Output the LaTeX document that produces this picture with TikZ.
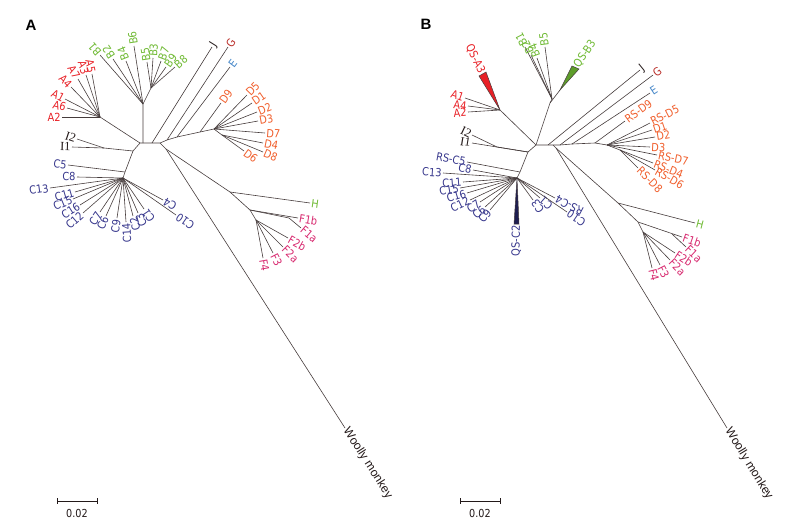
\documentclass[tikz,border=0pt]{standalone}
\usepackage{fontspec}
\setmainfont{DejaVu Sans}[FakeStretch=0.88]
\newfontfamily\serI{Liberation Serif}
\newfontfamily\arl{Liberation Sans}
\usetikzlibrary{calc}
\definecolor{cA}{RGB}{232,32,38}
\definecolor{cB}{RGB}{110,185,50}
\definecolor{cC}{RGB}{55,55,140}
\definecolor{cD}{RGB}{240,95,45}
\definecolor{cE}{RGB}{70,135,200}
\definecolor{cG}{RGB}{185,45,40}
\definecolor{cF}{RGB}{215,40,110}
\definecolor{cK}{RGB}{35,25,25}
\definecolor{cL}{RGB}{70,60,60}
\definecolor{cW}{RGB}{30,30,80}
\tikzset{
  br/.style={draw=cL,line width=0.6pt},
  lab/.style={font=\fontsize{11.2}{13}\selectfont,inner sep=1.2pt},
  labI/.style={font=\serI\fontsize{12.5}{14}\selectfont,inner sep=1.2pt,text=cK},
  wedge/.style={draw=cL,line width=0.5pt},
}
\newcommand\lfn[5]{%
  \coordinate (#1t) at #3;
  \draw[br] (#2) -- (#1t);
  \path let \p1=($(#1t)-(#2)$), \n1={atan2(\y1,\x1)} in
    node[lab,#5,rotate=\n1,anchor=west] (#1) at (#1t) {#4};
}
\newcommand\lff[5]{%
  \coordinate (#1t) at #3;
  \draw[br] (#2) -- (#1t);
  \path let \p1=($(#1t)-(#2)$), \n1={atan2(\y1,\x1)} in
    node[lab,#5,rotate=\n1+180,anchor=east] (#1) at (#1t) {#4};
}
\begin{document}
\begin{tikzpicture}[x=1pt,y=-1pt]
\useasboundingbox (0,0) rectangle (800,528);
% ================= PANEL A =================
\node[font=\arl\bfseries\fontsize{15}{17}\selectfont,text=black] (labA) at (31,25) {A};
\coordinate (a0) at (140,143);
\coordinate (aBb) at (143,143);
\coordinate (aJ) at (152,143);
\coordinate (a1) at (160,143);
\coordinate (a2) at (166,149);
\coordinate (ai) at (133,151);
\coordinate (aA) at (100,117);
\coordinate (aB1) at (143,104);
\coordinate (aB2) at (151,88);
\coordinate (aG) at (167,140);
\coordinate (aE) at (177,137);
\coordinate (aD9) at (200,132);
\coordinate (aD) at (214,129);
\coordinate (aDs) at (222,135);
\coordinate (aH) at (230,192);
\coordinate (aF) at (250,210);
\coordinate (aF1) at (289,218);
\coordinate (aF2) at (256,220);
\coordinate (aI) at (104,148);
\coordinate (aC5) at (125,172);
\coordinate (aC) at (123,178);
\draw[br] (ai) -- (a0) -- (aBb) -- (aJ) -- (a1) -- (aG) -- (aE) -- (aD9) -- (aD) -- (aDs);
\draw[br] (a0) -- (aA);
\draw[br] (aBb) -- (aB1) -- (aB2);
\draw[br] (a1) -- (a2) -- (aH) -- (aF) -- (aF2);
\draw[br] (aF) -- (aF1);
\draw[br] (ai) -- (aI);
\draw[br] (ai) -- (aC5) -- (aC);
% A clade
\lff{aA2}{aA}{(62,117)}{A2}{text=cA}
\lff{aA6}{aA}{(67,108)}{A6}{text=cA}
\lff{aA1}{aA}{(65,99)}{A1}{text=cA}
\lff{aA4}{aA}{(71,87)}{A4}{text=cA}
\lff{aA7}{aA}{(78,79)}{A7}{text=cA}
\lff{aA3}{aA}{(86,75)}{A3}{text=cA}
\lff{aA5}{aA}{(92,74)}{A5}{text=cA}
% B clade
\lfn{aB1l}{aB1}{(100,55)}{B1}{text=cB}
\lfn{aB2l}{aB1}{(113,59)}{B2}{text=cB}
\lfn{aB4l}{aB1}{(126,61)}{B4}{text=cB}
\lfn{aB6l}{aB1}{(134,46)}{B6}{text=cB}
\lfn{aB5l}{aB2}{(147,62)}{B5}{text=cB}
\lfn{aB3l}{aB2}{(153,58)}{B3}{text=cB}
\lfn{aB7l}{aB2}{(161,61)}{B7}{text=cB}
\lfn{aB9l}{aB2}{(166,67)}{B9}{text=cB}
\lfn{aB8l}{aB2}{(175,67)}{B8}{text=cB}
% J G E
\lfn{aJl}{aJ}{(212,47)}{J}{text=cK}
\lfn{aGl}{aG}{(228,47)}{G}{text=cG}
\lfn{aEl}{aE}{(230,67)}{E}{text=cE}
% D clade
\lfn{aD9l}{aD9}{(221,103)}{D9}{text=cD}
\lfn{aD5l}{aD}{(247,95)}{D5}{text=cD}
\lfn{aD1l}{aD}{(252,103)}{D1}{text=cD}
\lfn{aD2l}{aD}{(257,112)}{D2}{text=cD}
\lfn{aD3l}{aD}{(258,121)}{D3}{text=cD}
\lfn{aD7l}{aD}{(265,133)}{D7}{text=cD}
\lfn{aD4l}{aDs}{(263,143)}{D4}{text=cD}
\lfn{aD8l}{aDs}{(263,152)}{D8}{text=cD}
\lfn{aD6l}{aDs}{(244,151)}{D6}{text=cD}
% H F
\lfn{aHl}{aH}{(310,203)}{H}{text=cB}
\lfn{aF1bl}{aF}{(298,218)}{F1b}{text=cF}
\lfn{aF1al}{aF1}{(301,228)}{F1a}{text=cF}
\lfn{aF2bl}{aF2}{(288,238)}{F2b}{text=cF}
\lfn{aF2al}{aF2}{(283,247)}{F2a}{text=cF}
\lfn{aF3l}{aF2}{(273,253)}{F3}{text=cF}
\lfn{aF4l}{aF2}{(263,258)}{F4}{text=cF}
% woolly
\lfn{aWl}{a2}{(345,428)}{Woolly monkey}{font=\arl\fontsize{12}{14}\selectfont,text=cK}
% I
\lff{aI2l}{aI}{(77,139)}{I2}{labI}
\lff{aI1l}{aI}{(72,147)}{I1}{labI}
% C clade
\lff{aC5l}{aC5}{(68,165)}{C5}{text=cC}
\lff{aC8l}{aC}{(77,177)}{C8}{text=cC}
\lff{aC13l}{aC}{(50,188)}{C13}{text=cC}
\lff{aC11l}{aC}{(75,192)}{C11}{text=cC}
\lff{aC15l}{aC}{(73,199)}{C15}{text=cC}
\lff{aC16l}{aC}{(80,205)}{C16}{text=cC}
\lff{aC12l}{aC}{(83,213)}{C12}{text=cC}
\lff{aC7l}{aC}{(100,212)}{C7}{text=cC}
\lff{aC6l}{aC}{(106,216)}{C6}{text=cC}
\lff{aC9l}{aC}{(117,218)}{C9}{text=cC}
\lff{aC14l}{aC}{(126,222)}{C14}{text=cC}
\lff{aC2l}{aC}{(133,216)}{C2}{text=cC}
\lff{aC3l}{aC}{(138,213)}{C3}{text=cC}
\lff{aC1l}{aC}{(144,209)}{C1}{text=cC}
\lff{aC4l}{aC}{(163,200)}{C4}{text=cC}
\lff{aC10l}{aC}{(176,215)}{C10}{text=cC}
% scale bar
\coordinate (sa1) at (57,501);
\coordinate (sa2) at (97,501);
\draw[draw=cK,line width=0.7pt] ($(sa1)+(0,-3)$) -- ($(sa1)+(0,3)$) (sa1) -- (sa2) ($(sa2)+(0,-3)$) -- ($(sa2)+(0,3)$);
\node[font=\fontsize{11}{13}\selectfont,text=cK] (sla) at (77,513) {0.02};
% ================= PANEL B =================
\node[font=\arl\bfseries\fontsize{15}{17}\selectfont,text=black] (labB) at (426,24) {B};
\coordinate (b0) at (536,145);
\coordinate (bJ) at (548,145);
\coordinate (b1) at (553,145);
\coordinate (b2) at (556,148);
\coordinate (bG) at (560,145);
\coordinate (bE) at (572,144);
\coordinate (bD9) at (595,143);
\coordinate (bD) at (607,145);
\coordinate (bDs) at (620,150);
\coordinate (bi) at (528,152);
\coordinate (bA) at (500,110);
\coordinate (bB) at (550,103);
\coordinate (bB2) at (552,99);
\coordinate (bQB) at (560,90);
\coordinate (bI) at (497,147);
\coordinate (bC5) at (520,172);
\coordinate (bC) at (517,178);
\coordinate (bH) at (618,203);
\coordinate (bF) at (638,222);
\coordinate (bF1) at (672,234);
\coordinate (bF2) at (643,232);
\draw[br] (bi) -- (b0) -- (bJ) -- (b1) -- (bG) -- (bE) -- (bD9) -- (bD) -- (bDs);
\draw[br] (b0) -- (bB) -- (bB2);
\draw[br] (bB) -- (bQB);
\draw[br] (b0) -- (bA);
\draw[br] (b1) -- (b2) -- (bH) -- (bF) -- (bF2);
\draw[br] (bi) -- (bI);
\draw[br] (bi) -- (bC5) -- (bC);
% A clade
\coordinate (bQA1) at (479,76);
\coordinate (bQA2) at (486,72);
\draw[wedge,fill=cA] (bA) -- (bQA1) -- (bQA2) -- cycle;
\coordinate (bQAm) at ($(bQA1)!0.5!(bQA2)$);
\path let \p1=($(bQAm)-(bA)$), \n1={atan2(\y1,\x1)} in
  node[lab,text=cA,rotate=\n1+180,anchor=east] (bQAl) at (bQAm) {QS-A3};
\lff{bA1l}{bA}{(465,98)}{A1}{text=cA}
\lff{bA4l}{bA}{(468,106)}{A4}{text=cA}
\lff{bA2l}{bA}{(468,112)}{A2}{text=cA}
% B clade
\lfn{bB1l}{bB2}{(525,47)}{B1}{text=cB}
\lfn{bB2l}{bB2}{(531,55)}{B2}{text=cB}
\lfn{bB4l}{bB2}{(537,58)}{B4}{text=cB}
\lfn{bB5l}{bB2}{(545,47)}{B5}{text=cB}
\coordinate (bQB1) at (572,66);
\coordinate (bQB2) at (579,69);
\draw[wedge,fill=cB!85!black] (bQB) -- (bQB1) -- (bQB2) -- cycle;
\coordinate (bQBm) at ($(bQB1)!0.5!(bQB2)$);
\path let \p1=($(bQBm)-(bQB)$), \n1={atan2(\y1,\x1)} in
  node[lab,text=cB,rotate=\n1,anchor=west] (bQBl) at (bQBm) {QS-B3};
% J G E
\lfn{bJl}{bJ}{(640,70)}{J}{text=cK}
\lfn{bGl}{bG}{(653,75)}{G}{text=cG}
\lfn{bEl}{bE}{(650,93)}{E}{text=cE}
% D clade
\lfn{bD9l}{bD9}{(625,121)}{RS-D9}{text=cD}
\lfn{bD5l}{bD}{(650,123)}{RS-D5}{text=cD}
\lfn{bD1l}{bD}{(652,130)}{D1}{text=cD}
\lfn{bD2l}{bD}{(655,137)}{D2}{text=cD}
\lfn{bD3l}{bD}{(650,147)}{D3}{text=cD}
\lfn{bD7l}{bD}{(657,155)}{RS-D7}{text=cD}
\lfn{bD4l}{bDs}{(653,163)}{RS-D4}{text=cD}
\lfn{bD6l}{bDs}{(655,170)}{RS-D6}{text=cD}
\lfn{bD8l}{bDs}{(638,168)}{RS-D8}{text=cD}
% H F
\lfn{bHl}{bH}{(695,223)}{H}{text=cB}
\lfn{bF1bl}{bF}{(682,237)}{F1b}{text=cF}
\lfn{bF1al}{bF1}{(686,247)}{F1a}{text=cF}
\lfn{bF2bl}{bF2}{(675,253)}{F2b}{text=cF}
\lfn{bF2al}{bF2}{(670,260)}{F2a}{text=cF}
\lfn{bF3l}{bF2}{(660,265)}{F3}{text=cF}
\lfn{bF4l}{bF2}{(652,268)}{F4}{text=cF}
% woolly
\lfn{bWl}{b2}{(727,428)}{Woolly monkey}{font=\arl\fontsize{12}{14}\selectfont,text=cK}
% I
\lff{bI2l}{bI}{(472,135)}{I2}{labI}
\lff{bI1l}{bi}{(472,143)}{I1}{labI}
% C clade
\lff{bC5l}{bC5}{(467,162)}{RS-C5}{text=cC}
\lff{bC8l}{bC}{(473,170)}{C8}{text=cC}
\lff{bC13l}{bC}{(443,173)}{C13}{text=cC}
\lff{bC11l}{bC}{(463,182)}{C11}{text=cC}
\lff{bC15l}{bC}{(460,188)}{C15}{text=cC}
\lff{bC16l}{bC}{(467,193)}{C16}{text=cC}
\lff{bC12l}{bC}{(470,200)}{C12}{text=cC}
\lff{bC7l}{bC}{(480,202)}{C7}{text=cC}
\lff{bC6l}{bC}{(485,207)}{C6}{text=cC}
\lff{bC9l}{bC}{(490,210)}{C9}{text=cC}
\lff{bC3l}{bC}{(533,200)}{C3}{text=cC}
\lff{bC1l}{bC}{(540,198)}{C1}{text=cC}
\lff{bC4l}{bC}{(555,198)}{RS-C4}{text=cC}
\lff{bC10l}{bC}{(567,212)}{C10}{text=cC}
\coordinate (bQC1) at (514,224);
\coordinate (bQC2) at (519,224);
\draw[wedge,fill=cW] (bC) -- (bQC1) -- (bQC2) -- cycle;
\coordinate (bQCm) at ($(bQC1)!0.5!(bQC2)$);
\path let \p1=($(bQCm)-(bC)$), \n1={atan2(\y1,\x1)} in
  node[lab,text=cC,rotate=\n1+180,anchor=east] (bQCl) at (bQCm) {QS-C2};
% scale bar
\coordinate (sb1) at (460,501);
\coordinate (sb2) at (500,501);
\draw[draw=cK,line width=0.7pt] ($(sb1)+(0,-3)$) -- ($(sb1)+(0,3)$) (sb1) -- (sb2) ($(sb2)+(0,-3)$) -- ($(sb2)+(0,3)$);
\node[font=\fontsize{11}{13}\selectfont,text=cK] (slb) at (480,513) {0.02};
\end{tikzpicture}
\end{document}
